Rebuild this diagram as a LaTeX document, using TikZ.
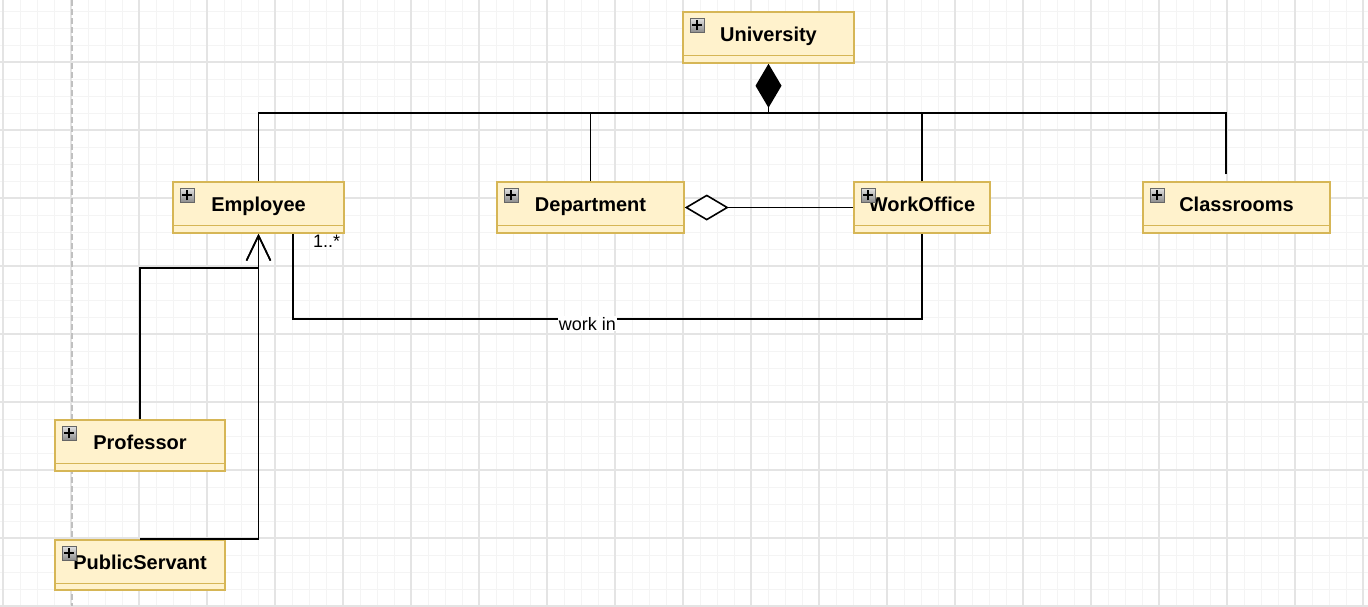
\documentclass[tikz,border=0pt]{standalone}
\usepackage{fontspec}
\setmainfont{Liberation Sans}
\usetikzlibrary{arrows.meta,fit,calc}
\definecolor{boxfill}{HTML}{FFF2CC}
\definecolor{boxdraw}{HTML}{D6B656}
\definecolor{gridminor}{HTML}{F4F4F4}
\definecolor{gridmajor}{HTML}{E4E4E4}
\definecolor{guide}{HTML}{C0C0C0}
\tikzset{
  classbox/.style={draw=boxdraw, fill=boxfill, line width=1.5pt, inner sep=0pt},
  classline/.style={draw=boxdraw, line width=1.5pt},
  classtext/.style={font=\fontsize{20}{24}\selectfont\bfseries, inner sep=0pt, anchor=base},
  iconbox/.style={draw=black!60, line width=1pt, top color=black!12, bottom color=black!45, minimum size=14pt, inner sep=0pt},
  edge/.style={draw=black, line width=1.6pt},
  elabel/.style={font=\fontsize{18}{22}\selectfont, inner sep=1pt},
  gridthin/.style={draw=gridminor, line width=1pt},
  gridthick/.style={draw=gridmajor, line width=1.5pt},
}
\newcommand\umlclass[6]{%
  \node[classbox, fit={(#2,#3) (#4,#5)}] (#1) {};
  \draw[classline] ([yshift=-44pt]#1.north west) -- ([yshift=-44pt]#1.north east);
  \node[classtext] (#1text) at ([yshift=-30.5pt]#1.north) {#6};
  \node[iconbox] (#1icon) at ([xshift=15pt,yshift=-14pt]#1.north west) {};
  \draw[line width=2pt] ([xshift=-5pt]#1icon.center) -- ([xshift=5pt]#1icon.center)
                        ([yshift=-5pt]#1icon.center) -- ([yshift=5pt]#1icon.center);
}
\begin{document}
\begin{tikzpicture}[x=1pt,y=-1pt]
\useasboundingbox (0,0) rectangle (1368,606);
\fill[white] (0,0) rectangle (1368,606);
% grid
\foreach \x in {3,20,...,1368} \draw[gridthin] (\x,0) -- (\x,606);
\foreach \y in {11,28,...,606} \draw[gridthin] (0,\y) -- (1368,\y);
\foreach \x in {3,71,...,1368} \draw[gridthick] (\x,0) -- (\x,606);
\foreach \y in {62,130,...,606} \draw[gridthick] (0,\y) -- (1368,\y);
\draw[guide, line width=2pt, dash pattern=on 6pt off 3pt] (72,0) -- (72,606);

% classes
\umlclass{univ}{683}{12}{854}{63}{University}
\umlclass{emp}{173}{182}{344}{233}{Employee}
\umlclass{dept}{497}{182}{684}{233}{Department}
\umlclass{wo}{854}{182}{990}{233}{WorkOffice}
\umlclass{cls}{1143}{182}{1330}{233}{Classrooms}
\umlclass{prof}{55}{420}{225}{471}{Professor}
\umlclass{ps}{55}{540}{225}{590}{PublicServant}

% composition
\coordinate (junc) at (768.5,113);
\draw[edge] (emp.north) |- (junc);
\draw[edge] (dept.north) |- (junc);
\draw[edge] (wo.north) |- (junc);
\draw[edge] ([xshift=-10.5pt,yshift=7pt]cls.north) |- (junc);
\draw[edge, -{Diamond[length=44pt,width=26pt,fill=black]}] (junc) -- (univ.south);

% aggregation
\draw[edge, {Diamond[length=44pt,width=26pt,open,fill=white]}-] (dept.east) -- (wo.west);

% generalization
\draw[edge, -{Straight Barb[length=25pt,width=24pt]}] (prof.north) |- ([yshift=-34pt]emp.south) -- (emp.south);
\draw[edge, -{Straight Barb[length=25pt,width=24pt]}] (ps.north) -| (emp.south);

% association
\draw[edge] ([xshift=34.5pt]emp.south) |- node[elabel, pos=0.734, yshift=-5pt, fill=white] (worklbl) {work in} ([yshift=-85pt]wo.south) -- (wo.south);
\node[elabel, anchor=base west, font=\fontsize{18}{21}\selectfont] (mult) at (312,247) {1..*};
\end{tikzpicture}
\end{document}
